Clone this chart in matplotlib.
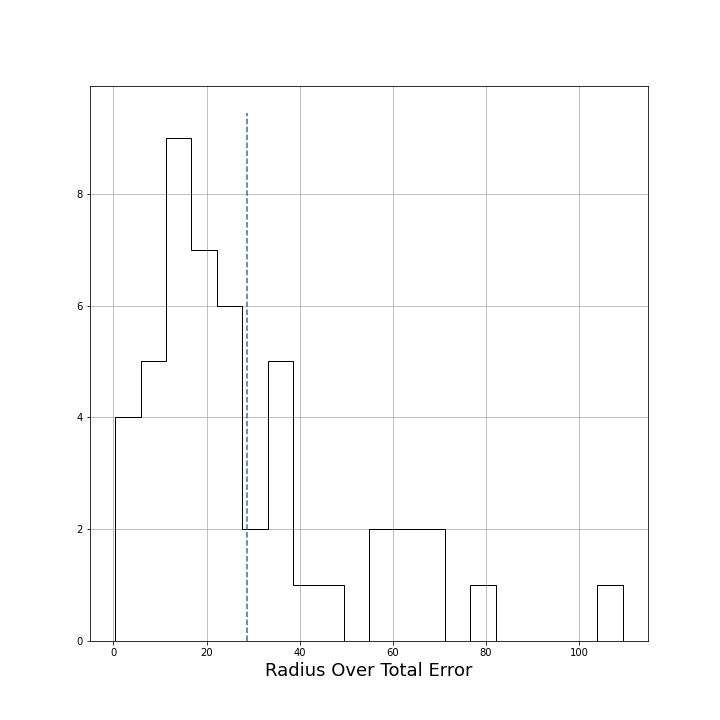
import numpy as np
import matplotlib
matplotlib.use("Agg")
import matplotlib.pyplot as plt

counts = [4, 5, 9, 7, 6, 2, 5, 1, 1, 0, 2, 2, 2, 0, 1, 0, 0, 0, 0, 1]
edge_lo, edge_hi = 0.43, 109.3
median_line = 28.6
line_top = 9.45

edges = np.linspace(edge_lo, edge_hi, len(counts) + 1)

fig, ax = plt.subplots(figsize=(10, 10), dpi=72)
ax.stairs(counts, edges, color="black", linewidth=1, baseline=0)
ax.vlines(median_line, 0, line_top, linestyles="dashed", color="#1f77b4", linewidth=1.5)
ax.margins(x=0.05, y=0.05)
ax.set_ylim(bottom=0)
ax.grid(True)
ax.set_axisbelow(True)
ax.set_xlabel("Radius Over Total Error", fontsize=18)
fig.savefig("out.png")
